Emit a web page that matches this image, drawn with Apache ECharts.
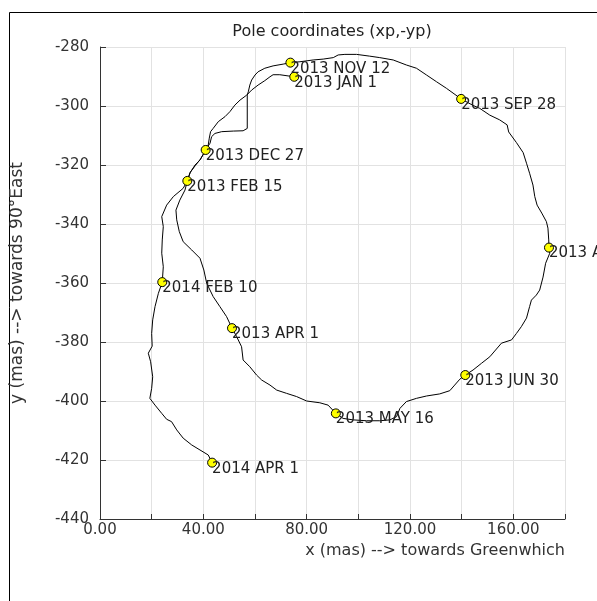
<!DOCTYPE html>
<html><head><meta charset="utf-8">
<script src="https://cdn.jsdelivr.net/npm/echarts@6/dist/echarts.min.js"></script>
<style>html,body{margin:0;padding:0;background:#fff}#c{width:597px;height:601px}</style>
</head><body><div id="c"></div>
<script>
// Daily pole path, 2013 JAN 1 -> 2014 APR 1, mas
const pathX = [75.2,72.8,69.6,67.0,65.8,63.8,61.2,58.7,56.8,54.2,52.2,50.3,48.4,45.8,43.8,42.8,42.3,41.9,40.8,38.7,36.8,34.8,33.8,
  32.9,30.9,29.4,29.7,30.7,32.2,35.5,38.7,40.2,41.3,43.8,46.4,49.0,51.1,
  52.9,54.8,55.4,58.0,60.6,62.6,65.8,68.4,72.2,76.1,80.0,85.1,88.3,91.3,
  94.1,98.0,103.2,108.3,112.2,114.8,116.1,118.6,122.5,126.4,131.5,135.4,137.3,139.3,141.4,
  144.4,147.7,150.9,155.4,159.3,161.2,163.1,165.1,166.3,167.0,168.9,170.2,171.5,172.5,174.1,173.8,
  173.7,173.4,172.8,171.0,169.2,168.3,167.6,166.3,165.1,163.8,161.2,158.2,157.6,154.7,150.9,147.0,144.4,139.8,
  134.1,130.3,126.4,122.5,118.6,113.5,108.3,104.4,99.3,94.8,92.2,90.3,86.4,82.5,77.4,73.7,
  70.9,67.0,63.8,61.2,60.0,58.7,58.0,57.4,57.0,57.0,55.4,51.6,47.1,44.5,43.2,42.6,40.9,
  38.9,36.9,35.0,33.6,32.2,28.4,25.8,23.9,24.5,24.1,23.9,24.5,24.1,
  22.6,21.3,20.4,20.0,20.2,18.7,19.6,20.4,20.0,19.3,21.3,23.9,25.8,27.7,29.7,32.2,35.5,38.7,41.9,43.4];
const pathY = [-290.1,-289.8,-289.4,-289.4,-290.1,-291.4,-292.9,-294.6,-296.3,-298.0,-299.7,-301.9,-303.6,-305.3,-307.6,-308.7,-310.9,-313.2,-315.2,-318.3,-320.0,-322.7,-325.4,
  -328.5,-331.9,-335.3,-338.6,-342.6,-346.0,-348.8,-351.6,-355.6,-360.1,-364.6,-368.0,-371.4,-375.3,
  -378.2,-381.6,-386.1,-388.4,-391.2,-392.9,-394.6,-396.3,-397.4,-398.5,-400.0,-400.6,-401.4,-404.2,
  -405.9,-406.4,-406.7,-406.7,-406.4,-405.3,-402.5,-400.2,-399.1,-398.3,-397.6,-396.5,-394.6,-392.6,-391.2,
  -389.5,-387.2,-385.0,-380.4,-379.3,-377.1,-374.8,-371.9,-368.0,-365.8,-364.1,-362.4,-358.0,-353.3,-349.9,-348.0,
  -345.4,-341.4,-339.2,-336.3,-333.6,-330.7,-326.8,-322.8,-319.4,-315.8,-312.4,-308.8,-306.4,-304.7,-303.1,-300.8,-299.8,-297.6,
  -294.0,-291.8,-289.5,-287.2,-286.1,-284.4,-283.6,-283.1,-282.5,-282.5,-282.7,-283.6,-284.1,-284.4,-285.0,-285.3,
  -285.8,-286.4,-287.2,-288.4,-289.5,-291.2,-292.9,-295.2,-296.3,-307.6,-308.4,-308.5,-308.7,-309.3,-310.4,-312.6,-314.9,
  -318.0,-320.2,-322.4,-325.7,-327.9,-330.7,-333.6,-337.5,-340.9,-345.4,-349.9,-354.5,-359.7,
  -363.5,-368.0,-372.5,-377.1,-381.4,-383.8,-386.7,-391.8,-395.7,-399.1,-401.4,-404.2,-406.2,-407.0,-409.8,-412.6,-414.9,-416.6,-418.3,-420.9];

// Labelled dates (every 45 days)
const markerLabels = ['2013 JAN 1','2013 FEB 15','2013 APR 1','2013 MAY 16','2013 JUN 30','2013 AUG 14','2013 SEP 28','2013 NOV 12','2013 DEC 27','2014 FEB 10','2014 APR 1'];
const markerX = [75.2,33.8,51.1,91.3,141.4,173.8,139.8,73.7,40.9,24.1,43.4];
const markerY = [-290.1,-325.4,-375.3,-404.2,-391.2,-348.0,-297.6,-285.3,-314.9,-359.7,-420.9];

const FONT = 'DejaVu Sans';
const chart = echarts.init(document.getElementById('c'), null, {renderer: 'canvas'});
chart.setOption({
  animation: false,
  backgroundColor: '#fff',
  title: {
    text: 'Pole coordinates (xp,-yp)', left: 327, top: 19, textAlign: 'center',
    textStyle: {fontFamily: FONT, fontSize: 16, fontWeight: 'normal', color: '#222'}
  },
  graphic: [{
    type: 'rect', silent: true,
    shape: {x: 9.5, y: 12.5, width: 700, height: 700},
    style: {fill: 'none', stroke: '#000', lineWidth: 1}
  }],
  grid: {left: 100, right: 32, top: 47, bottom: 82},
  xAxis: {
    type: 'value', min: 0, max: 180, interval: 20,
    name: 'x (mas) --> towards Greenwhich', nameLocation: 'end', nameGap: 0,
    nameTextStyle: {fontFamily: FONT, fontSize: 16, color: '#333', align: 'right', verticalAlign: 'top', padding: [24, 0, 0, 0]},
    axisLine: {show: true, lineStyle: {color: '#333', width: 1}},
    axisTick: {show: true, inside: true, length: 5, lineStyle: {color: '#333'}},
    splitLine: {show: true, lineStyle: {color: '#e2e2e2', width: 1}},
    axisLabel: {fontFamily: FONT, fontSize: 15, color: '#333', margin: 4,
      formatter: v => (v % 40 === 0 ? v.toFixed(2) : '')}
  },
  yAxis: {
    type: 'value', min: -440, max: -280, interval: 20,
    name: 'y (mas) --> towards 90°East', nameLocation: 'middle', nameGap: 74, nameRotate: 90,
    nameTextStyle: {fontFamily: FONT, fontSize: 17, color: '#333'},
    axisLine: {show: true, lineStyle: {color: '#333', width: 1}},
    axisTick: {show: true, inside: true, length: 6, lineStyle: {color: '#333'}},
    splitLine: {show: true, lineStyle: {color: '#e2e2e2', width: 1}},
    axisLabel: {fontFamily: FONT, fontSize: 15, color: '#333', margin: 11}
  },
  series: [
    {
      type: 'scatter', z: 3,
      data: markerX.map((x, i) => [x, markerY[i], markerLabels[i]]),
      symbol: 'circle', symbolSize: 9,
      itemStyle: {color: '#ffff00', borderColor: '#000', borderWidth: 1, opacity: 1},
      label: {show: true, position: 'right', distance: 0, offset: [-5, 6],
        formatter: p => p.value[2], fontFamily: FONT, fontSize: 15, color: '#222'}
    },
    {
      type: 'line', z: 2,
      data: pathX.map((x, i) => [x, pathY[i]]),
      showSymbol: false, symbol: 'none', smooth: false,
      lineStyle: {color: '#000', width: 1}
    }
  ]
});
</script></body></html>
